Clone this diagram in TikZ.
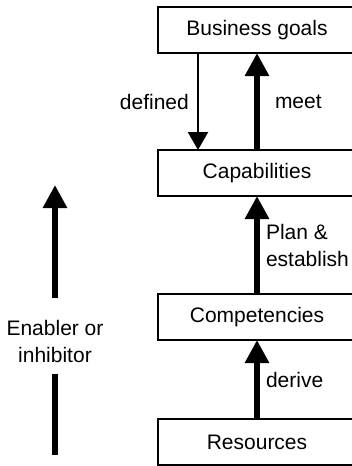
\documentclass[tikz,border=0pt]{standalone}
\usepackage{fontspec}
\setmainfont{Liberation Sans}
\usetikzlibrary{%
  arrows.meta,%
  positioning% wg. " of "
}

\begin{document}
\begin{tikzpicture}[
    x=1pt,y=-1pt,
    line join=miter,
    textfont/.style={font=\fontsize{21}{27}\selectfont},
    level/.style={rectangle,textfont,
        minimum width=198pt,minimum height=46pt,inner sep=0pt,outer sep=0pt},
    frame/.style={line width=2pt},
    heavy/.style={line width=6pt,-{Triangle[width=23pt,length=23pt]}},
    light/.style={line width=2.4pt,-{Triangle[width=20pt,length=18pt]}},
    bar/.style={line width=6pt},
    lbl/.style={textfont,inner sep=0pt,align=left}
  ]

    \useasboundingbox (0,0) rectangle (352,466);
    \clip (0,0) rectangle (352,466);

    % the four levels
    \node [level] at (257,30)       (goals)  {Business goals};
    \node [level,below=97pt of goals] (capab)  {Capabilities};
    \node [level,below=98pt of capab] (compet) {Competencies};
    \node [level,below=79pt of compet] (resour) {Resources};

    % frames run on past the right edge of the picture
    \foreach \n in {goals,capab,compet,resour}
        \draw [frame] ([xshift=20pt]\n.north east) -| (\n.south west)
            -- ([xshift=20pt]\n.south east);

    \draw [light] ([xshift=-59pt]goals.south) -- ([xshift=-59pt]capab.north)
        node [lbl,midway,left=8pt] {defined};
    \draw [heavy] (capab) -- (goals)
        node [lbl,midway,right=15pt] {meet};
    \draw [heavy] (compet) -- (capab)
        node [lbl,midway,right=6pt] {Plan \&\\establish};
    \draw [heavy] (resour) -- (compet)
        node [lbl,midway,right=6pt] {derive};

    % enabler arrow on the left
    \node [lbl,align=center] at (55,341) (enabler) {Enabler or\\inhibitor};
    \coordinate (entop) at (55,185);
    \coordinate (enbot) at (55,455);
    \draw [heavy] ([yshift=43pt]enabler.center) -- (entop);
    \draw [bar]   ([yshift=-33pt]enabler.center) -- (enbot);
\end{tikzpicture}
\end{document}
